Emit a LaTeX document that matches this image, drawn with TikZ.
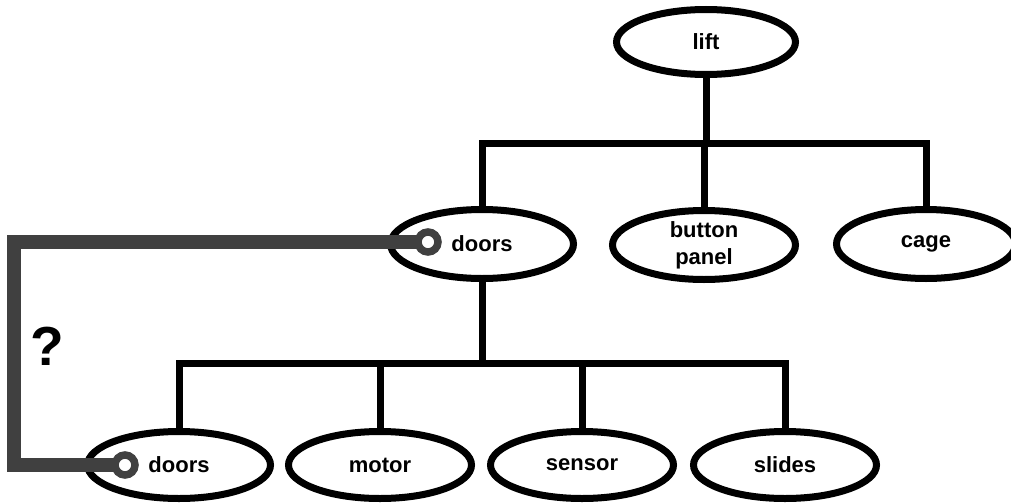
\documentclass[tikz,border=0pt]{standalone}
\usepackage{fontspec}
\setmainfont{Liberation Sans}
\usetikzlibrary{shapes.geometric}
\definecolor{linkgray}{HTML}{404040}
\pgfdeclarelayer{front}
\pgfsetlayers{main,front}
\begin{document}
\begin{tikzpicture}[x=1pt,y=-1pt,
  part/.style={ellipse, draw=black, line width=7pt, fill=white,
    minimum width=183pt, minimum height=69pt, inner sep=0pt,
    font=\fontsize{22}{27}\selectfont\bfseries, align=center},
  tree/.style={line width=7pt, line cap=rect},
  link/.style={draw=linkgray, line width=14pt},
  hole/.style={circle, draw=linkgray, line width=7.5pt, fill=white,
    minimum size=20pt, inner sep=0pt},
  query/.style={font=\fontsize{55}{62}\selectfont\bfseries}
]
\useasboundingbox (0,0) rectangle (1011,503);

% parts
\node[part, minimum width=179pt, minimum height=65pt] (lift) at (706,42) {lift};
\node[part] (doorsU) at (482,244) {doors};
\node[part] (panel) at (704,245) {button\\panel};
\node[part, minimum width=179pt] (cage) at (926,244) {cage};
\node[part, minimum height=67pt] (doorsL) at (179,465) {doors};
\node[part, minimum height=67pt] (motor) at (380,465) {motor};
\node[part, minimum height=67pt] (sensor) at (582,465) {sensor};
\node[part, minimum height=67pt] (slides) at (785,465) {slides};

% branch points of the tree
\coordinate (barA) at (706,143);
\coordinate (barB) at (482,363);

% part-of tree
\draw[tree] (lift.south) -- (barA);
\draw[tree] (barA) -| (doorsU.north);
\draw[tree] (barA) -| (panel.north);
\draw[tree] (barA) -| (cage.north);
\draw[tree] (doorsU.south) -- (barB);
\draw[tree] (barB) -| (doorsL.north);
\draw[tree] (barB) -| (motor.north);
\draw[tree] (barB) -| (sensor.north);
\draw[tree] (barB) -| (slides.north);

% link between the two doors, ending in ring terminals on top
\begin{pgfonlayer}{front}
\node[hole] (endU) at (428,242) {};
\node[hole] (endL) at (125,465) {};
\end{pgfonlayer}
\draw[link] (endU.center) -- ++(-414,0) |- (endL.center);

\node[query] (q) at (47,346) {?};
\end{tikzpicture}
\end{document}
